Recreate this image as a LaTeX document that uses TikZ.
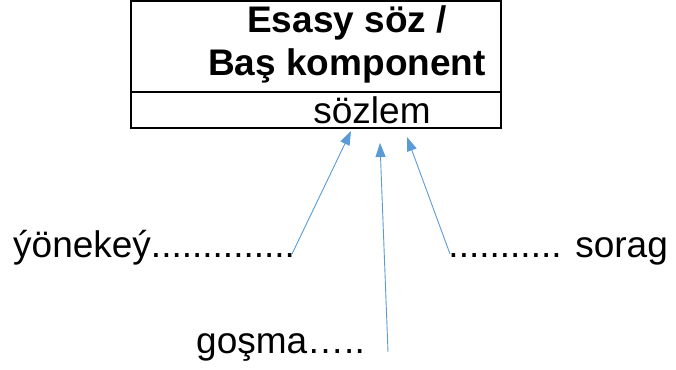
\documentclass[tikz,border=0pt]{standalone}
\usepackage{fontspec}
\setmainfont{Liberation Sans}
\usepackage{xcolor}
\usetikzlibrary{
    arrows.meta,
    positioning,
}
\definecolor{arrowblue}{HTML}{5B9BD5}

\begin{document}
\begin{tikzpicture}[
        x=1pt, y=-1pt,
        head/.style={
            rectangle, draw=black, line width=1.8pt, outer sep=0pt,
            minimum width=370pt, minimum height=91pt, inner sep=0pt
        },
        body/.style={
            rectangle, draw=black, line width=1.8pt, outer sep=0pt,
            minimum width=370pt, minimum height=36pt, inner sep=0pt
        },
        headtext/.style={
            inner sep=0pt, align=center, font=\fontsize{37}{43}\selectfont\bfseries
        },
        kind/.style={
            inner sep=0pt, font=\fontsize{37}{43}\selectfont
        },
        arrow/.style={-{Triangle[length=14pt,width=10pt]}, draw=arrowblue, line width=0.9pt},
    ]

    \useasboundingbox (0,0) rectangle (676,369);

    % ── Box ──
    \node[head, anchor=north west] (head) at (131,1) {};
    \node[body, below=0pt of head] (body) {};
    \node[headtext, xshift=31pt, yshift=2pt] (title) at (head.center) {Esasy söz /\\Baş komponent};
    \node[kind, xshift=56pt] (sentence) at (body.center) {sözlem};

    % ── Sentence kinds ──
    \node[kind, anchor=base west] (simple) at (13,257) {ýönekeý..............};
    \node[kind, anchor=base east] (question) at (668,257) {........... sorag};
    \node[kind, anchor=base west] (compound) at (196,353) {goşma…..};

    % ── Arrow ends ──
    \coordinate (simple end) at (292,254);
    \coordinate (compound end) at (388,352);
    \coordinate (question end) at (450,254);
    \coordinate (simple tip) at (351,131);
    \coordinate (compound tip) at (380,143);
    \coordinate (question tip) at (407,137);

    % ── Arrows ──
    \draw[arrow] (simple end) -- (simple tip);
    \draw[arrow] (compound end) -- (compound tip);
    \draw[arrow] (question end) -- (question tip);

\end{tikzpicture}
\end{document}
